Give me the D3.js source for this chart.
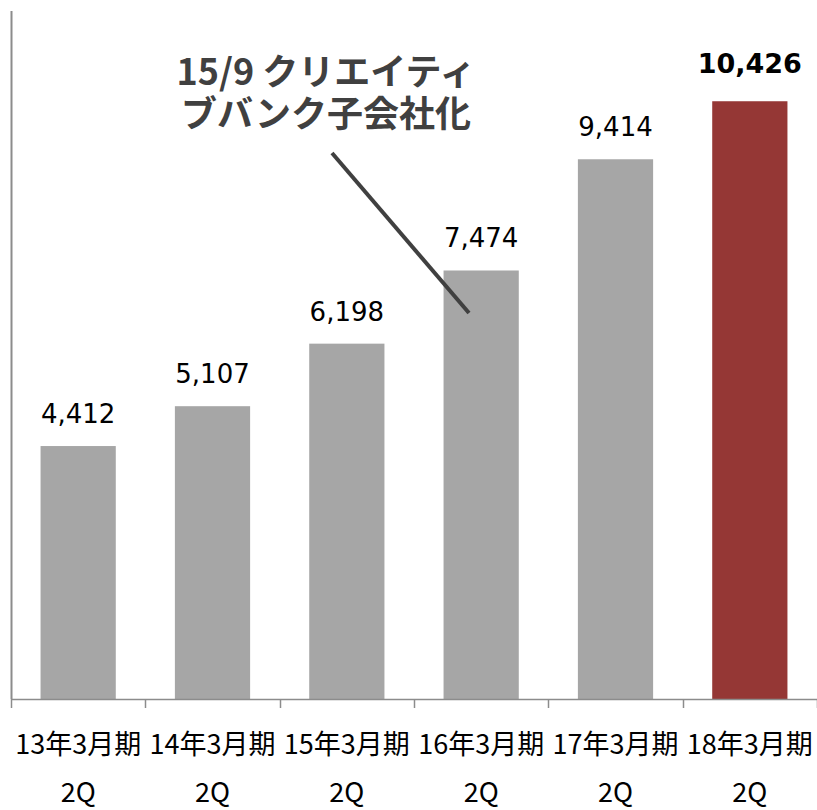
<!DOCTYPE html>
<html><head><meta charset="utf-8">
<script src="https://cdn.jsdelivr.net/npm/d3@7"></script>
<style>body{margin:0;background:#fff}svg{display:block}</style>
</head><body>
<script>
const categories = ["13年3月期", "14年3月期", "15年3月期", "16年3月期", "17年3月期", "18年3月期"];
const subLabels = ["2Q", "2Q", "2Q", "2Q", "2Q", "2Q"];
const values = [4412, 5107, 6198, 7474, 9414, 10426];
const highlight = [false, false, false, false, false, true];
const annotationLines = ["15/9 クリエイティ", "ブバンク子会社化"];
const yMax = 12000;

const W = 817, H = 810;
const svg = d3.select("body").append("svg").attr("width", W).attr("height", H);
const x = d3.scaleBand().domain(categories).range([11, 817]).paddingInner(0.44).paddingOuter(0.22);
const y = d3.scaleLinear().domain([0, yMax]).range([699, 11]);

const numFont = "Verdana, 'DejaVu Sans', sans-serif";
const jpFont = "'Noto Sans CJK JP', 'DejaVu Sans', sans-serif";

// bars
svg.selectAll("rect.bar").data(values).enter().append("rect")
  .attr("x", (d, i) => x(categories[i]))
  .attr("y", d => y(d))
  .attr("width", x.bandwidth())
  .attr("height", d => y(0) - y(d))
  .attr("fill", (d, i) => highlight[i] ? "#953735" : "#a6a6a6");

// value labels
svg.selectAll("text.val").data(values).enter().append("text")
  .attr("x", (d, i) => x(categories[i]) + x.bandwidth() / 2)
  .attr("y", (d, i) => y(d) - (highlight[i] ? 28 : 23))
  .attr("text-anchor", "middle")
  .attr("font-family", numFont)
  .attr("font-size", (d, i) => highlight[i] ? 27 : 26)
  .attr("font-weight", (d, i) => highlight[i] ? "bold" : "normal")
  .attr("fill", "#000")
  .text(d => d3.format(",")(d));

// axes
const axisColor = "#8c8c8c";
svg.append("line").attr("x1", 11.5).attr("x2", 11.5).attr("y1", y(yMax)).attr("y2", y(0))
  .attr("stroke", axisColor).attr("stroke-width", 2);
svg.append("line").attr("x1", 11).attr("x2", 817).attr("y1", y(0) + 0.5).attr("y2", y(0) + 0.5)
  .attr("stroke", axisColor).attr("stroke-width", 1.5);
const step = x.step();
const bounds = d3.range(categories.length + 1).map(i => 11 + i * step);
svg.selectAll("line.tick").data(bounds).enter().append("line")
  .attr("x1", d => Math.round(d) + 0.5).attr("x2", d => Math.round(d) + 0.5)
  .attr("y1", y(0)).attr("y2", y(0) + 9)
  .attr("stroke", axisColor).attr("stroke-width", 1.5);

// category labels
svg.selectAll("text.cat").data(categories).enter().append("text")
  .attr("x", d => x(d) + x.bandwidth() / 2)
  .attr("y", 754)
  .attr("text-anchor", "middle")
  .attr("font-family", jpFont)
  .attr("font-size", 27)
  .attr("fill", "#000")
  .text(d => d);
svg.selectAll("text.sub").data(subLabels).enter().append("text")
  .attr("x", (d, i) => x(categories[i]) + x.bandwidth() / 2)
  .attr("y", 802)
  .attr("text-anchor", "middle")
  .attr("font-family", jpFont)
  .attr("font-size", 27)
  .attr("fill", "#000")
  .text(d => d);

// annotation (one text block, two lines)
const ann = svg.append("text")
  .attr("text-anchor", "middle")
  .attr("font-family", jpFont)
  .attr("font-size", 36)
  .attr("font-weight", "bold")
  .attr("fill", "#404040");
ann.selectAll("tspan").data(annotationLines).enter().append("tspan")
  .attr("x", 326)
  .attr("y", (d, i) => 85 + i * 42)
  .text(d => d);
svg.append("line").attr("x1", 332).attr("y1", 153).attr("x2", 469).attr("y2", 313)
  .attr("stroke", "#404040").attr("stroke-width", 4);
</script>
</body></html>
